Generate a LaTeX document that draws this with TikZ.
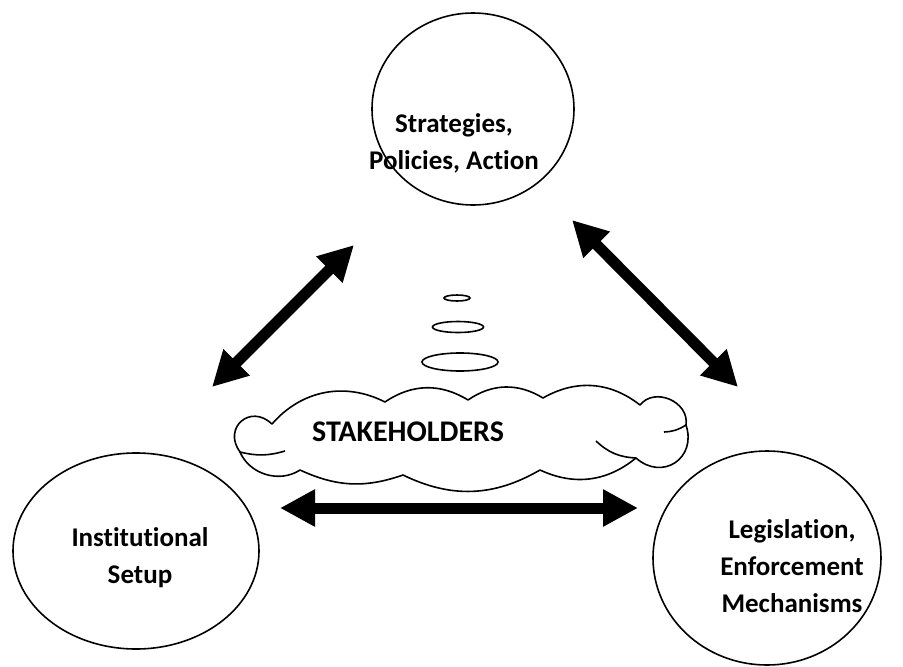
\documentclass[tikz,border=0pt]{standalone}
\usepackage{fontspec}
\setmainfont{Carlito}[Ligatures=CommonOff]
\usetikzlibrary{shapes.geometric,arrows.meta}

\begin{document}
\begin{tikzpicture}[x=1pt,y=-1pt,
  oval/.style={draw, ellipse, line width=1.6pt, inner sep=0pt},
  lbl/.style={font=\bfseries\fontsize{27}{37}\selectfont, align=center},
  bubble/.style={draw, ellipse, line width=1.6pt, inner sep=0pt},
  cloudline/.style={line width=1.6pt, line join=round},
  biarrow/.style={line width=11pt, {Triangle[length=35pt,width=35pt]}-{Triangle[length=35pt,width=35pt]}}]
  \useasboundingbox (0,0) rectangle (903,667);

  \node[oval, minimum width=202pt, minimum height=192pt] (strat) at (473,109) {};
  \node[oval, minimum width=246pt, minimum height=196pt] (inst) at (136,551) {};
  \node[oval, minimum width=228pt, minimum height=214pt] (legis) at (767,558) {};
  \node[lbl] (stratlbl) at (454,143) {Strategies,\\Policies, Action};
  \node[lbl] (instlbl) at (140,558) {Institutional\\Setup};
  \node[lbl] (legislbl) at (792,566) {Legislation,\\Enforcement\\Mechanisms};

  \draw[cloudline] (240,452) to[bend left=85, looseness=1.8] (272,424)
    to[bend left=38] (385,402) to[bend left=33] (468,400)
    to[bend left=33] (543,398) to[bend left=34] (640,405)
    to[bend left=75, looseness=1.2] (686,425) to[bend left=75, looseness=1.5] (636,458)
    to[bend left=32] (540,470) to[bend left=28] (403,475)
    to[bend left=22] (300,470) to[bend left=50] cycle;
  \draw[cloudline] (240,452) to[bend right=15] (285,451);
  \draw[cloudline] (686,425) to[bend left=15] (664,432);
  \draw[cloudline] (636,458) to[bend left=20] (596,441);
  \node[font=\bfseries\fontsize{30}{36}\selectfont] (stake) at (408,432) {STAKEHOLDERS};

  \node[bubble, minimum width=26pt, minimum height=6pt] (b1) at (457,298) {};
  \node[bubble, minimum width=51pt, minimum height=11pt] (b2) at (458,327) {};
  \node[bubble, minimum width=76pt, minimum height=18pt] (b3) at (460,362) {};

  \coordinate (l1) at (212,387);
  \coordinate (l2) at (354,245);
  \coordinate (r1) at (572,220);
  \coordinate (r2) at (738,387);
  \coordinate (h1) at (280,508);
  \coordinate (h2) at (638,508);
  \path[biarrow]
  (l1) edge (l2)
  (r1) edge (r2)
  (h1) edge (h2)
  ;
\end{tikzpicture}
\end{document}
